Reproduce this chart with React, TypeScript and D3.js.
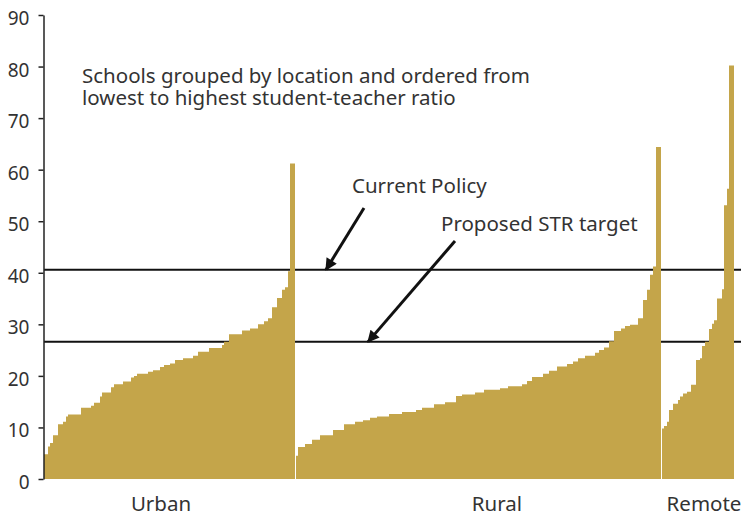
import React, { useRef, useEffect } from 'react';
import * as d3 from 'd3';

// Student-teacher ratio per school, as runs of [ratio, number of schools]
const urbanSteps: [number, number][] = [
  [4.8, 4], [6.3, 2], [7.0, 3], [8.5, 5], [10.6, 5], [11.1, 3], [12.1, 2], [12.5, 13],
  [13.8, 10], [14.2, 3], [14.8, 6], [16.0, 2], [16.8, 9], [17.8, 3], [18.4, 9], [18.9, 8],
  [19.7, 3], [20.0, 3], [20.4, 11], [20.8, 5], [21.1, 7], [21.7, 4], [22.1, 6], [22.4, 5],
  [23.1, 8], [23.4, 10], [23.9, 5], [24.7, 11], [25.4, 13], [26.0, 2], [26.6, 5], [28.1, 13],
  [28.8, 8], [29.2, 8], [30.0, 6], [30.6, 4], [31.2, 4], [33.3, 5], [35.1, 5], [36.7, 3],
  [37.2, 3], [40.3, 2], [61.2, 5],
];

const ruralSteps: [number, number][] = [
  [4.5, 2], [6.2, 7], [6.8, 7], [7.6, 8], [8.5, 13], [9.5, 11], [10.6, 11], [11.1, 8],
  [11.4, 7], [11.9, 7], [12.1, 12], [12.6, 13], [13.0, 14], [13.4, 6], [13.8, 12], [14.5, 11],
  [14.9, 11], [16.1, 6], [16.4, 13], [16.8, 9], [17.3, 16], [17.6, 8], [18.0, 14], [18.4, 5],
  [19.0, 5], [19.8, 11], [20.4, 6], [21.0, 8], [21.8, 10], [22.3, 6], [22.8, 5], [23.4, 7],
  [23.9, 10], [24.5, 4], [25.0, 5], [25.5, 5], [26.7, 5], [28.7, 7], [29.2, 4], [29.7, 5],
  [29.9, 8], [31.2, 5], [34.7, 4], [36.7, 3], [39.6, 3], [41.2, 3], [64.4, 5],
];

const remoteSteps: [number, number][] = [
  [9.8, 2], [10.3, 3], [11.1, 2], [13.4, 4], [14.6, 5], [15.3, 2], [16.0, 3], [16.6, 4],
  [16.9, 4], [18.3, 5], [23.1, 4], [23.4, 2], [25.8, 3], [26.6, 4], [29.1, 3], [30.1, 2],
  [30.8, 3], [35.0, 5], [36.8, 2], [53.1, 3], [56.3, 2], [80.2, 5],
];

const groupNames = ['Urban', 'Rural', 'Remote'];
const yTicks = [0, 10, 20, 30, 40, 50, 60, 70, 80, 90];
const currentPolicy = 40.6;
const proposedTarget = 26.6;

const noteLines = [
  'Schools grouped by location and ordered from',
  'lowest to highest student-teacher ratio',
];

const width = 741;
const height = 516;
const barColor = '#C4A54A';
const textColor = '#333333';
const font = '"Noto Sans", sans-serif';

const expand = (steps: [number, number][]) =>
  steps.flatMap(([v, n]) => Array.from({ length: n }, () => v));

const App = () => {
  const ref = useRef<SVGSVGElement>(null);

  useEffect(() => {
    const svg = d3.select(ref.current);
    svg.selectAll('*').remove();

    const margin = { top: 15, right: 7, bottom: 37, left: 44 };
    const groups = [urbanSteps, ruralSteps, remoteSteps].map(expand);
    const gap = 1;
    const total = d3.sum(groups, g => g.length) + gap * (groups.length - 1);

    const x = d3.scaleLinear().domain([0, total]).range([margin.left, width - margin.right]);
    const y = d3.scaleLinear().domain([0, 90]).range([height - margin.bottom, margin.top]);

    // reference lines (behind the bars)
    [currentPolicy, proposedTarget].forEach(v => {
      svg.append('line')
        .attr('x1', margin.left)
        .attr('x2', width)
        .attr('y1', y(v))
        .attr('y2', y(v))
        .attr('stroke', '#111')
        .attr('stroke-width', 2);
    });

    // bars drawn as a stepped area per group so adjacent schools don't leave seams
    const area = d3.area<[number, number]>()
      .x(d => x(d[0]))
      .y0(y(0))
      .y1(d => y(d[1]))
      .curve(d3.curveStepAfter);

    let start = 0;
    groups.forEach(vals => {
      const pts: [number, number][] = vals.map((v, i) => [start + i, v]);
      pts.push([start + vals.length, vals[vals.length - 1]]);
      svg.append('path')
        .datum(pts)
        .attr('fill', barColor)
        .attr('d', area);
      start += vals.length + gap;
    });

    // y axis
    const yAxis = d3.axisLeft(y)
      .tickValues(yTicks)
      .tickSize(5)
      .tickSizeOuter(0)
      .tickPadding(9);

    const ga = svg.append('g')
      .attr('transform', `translate(${margin.left - 0.5},0)`)
      .call(yAxis);
    ga.select('.domain').attr('stroke', '#222').attr('stroke-width', 1.5);
    ga.selectAll('.tick line').attr('stroke', '#222').attr('stroke-width', 1.5);
    ga.selectAll('.tick text')
      .attr('font-family', font)
      .attr('font-size', 19)
      .attr('fill', textColor)
      .attr('dy', '0.5em');

    // group labels
    const labelX = [161, 497, 704];
    groupNames.forEach((name, i) => {
      svg.append('text')
        .attr('x', labelX[i])
        .attr('y', 511)
        .attr('text-anchor', 'middle')
        .attr('font-family', font)
        .attr('font-size', 20.5)
        .attr('fill', textColor)
        .text(name);
    });

    // note
    noteLines.forEach((line, i) => {
      svg.append('text')
        .attr('x', 82)
        .attr('y', 83 + i * 22)
        .attr('font-family', font)
        .attr('font-size', 20.5)
        .attr('fill', textColor)
        .text(line);
    });

    // annotations with arrows
    const defs = svg.append('defs');
    defs.append('marker')
      .attr('id', 'arrowhead')
      .attr('viewBox', '0 0 10 10')
      .attr('refX', 9)
      .attr('refY', 5)
      .attr('markerWidth', 15)
      .attr('markerHeight', 12)
      .attr('markerUnits', 'userSpaceOnUse')
      .attr('orient', 'auto')
      .append('path')
      .attr('d', 'M0,0 L10,5 L0,10 Z')
      .attr('fill', '#111');

    const notes = [
      { text: 'Current Policy', tx: 352, ty: 193, from: [364, 208], to: [326, y(currentPolicy)] },
      { text: 'Proposed STR target', tx: 441, ty: 231, from: [455, 241], to: [368, y(proposedTarget)] },
    ];
    notes.forEach(n => {
      svg.append('text')
        .attr('x', n.tx)
        .attr('y', n.ty)
        .attr('font-family', font)
        .attr('font-size', 20.5)
        .attr('fill', textColor)
        .text(n.text);
      svg.append('line')
        .attr('x1', n.from[0])
        .attr('y1', n.from[1])
        .attr('x2', n.to[0])
        .attr('y2', n.to[1])
        .attr('stroke', '#111')
        .attr('stroke-width', 3)
        .attr('marker-end', 'url(#arrowhead)');
    });
  }, []);

  return (
    <svg
      ref={ref}
      width={width}
      height={height}
      style={{ position: 'absolute', left: 0, top: 0, background: '#fff' }}
    />
  );
};

export default App;
